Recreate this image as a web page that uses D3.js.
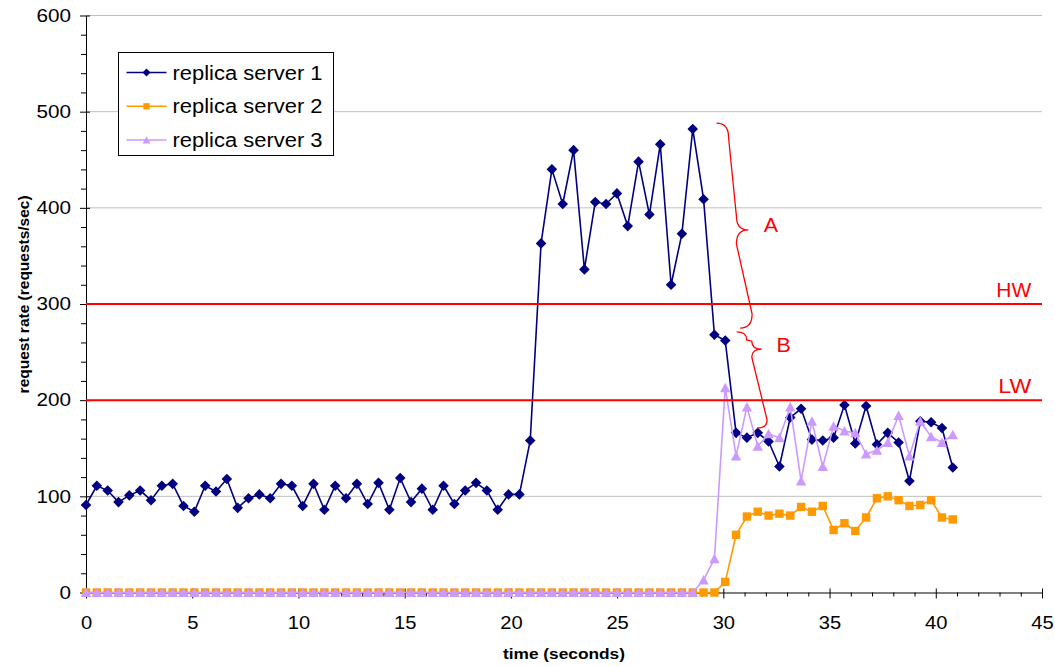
<!DOCTYPE html>
<html>
<head>
<meta charset="utf-8">
<script src="https://cdn.jsdelivr.net/npm/d3@7"></script>
<style>
  body { margin: 0; background: #fff; }
  text { font-family: "Liberation Sans", Arial, sans-serif; }
</style>
</head>
<body>
<div id="canvas"></div>
<script>
// sample times (seconds)
const times = [0, 0.51, 1.02, 1.53, 2.04, 2.55, 3.06, 3.57, 4.08, 4.59, 5.1, 5.61, 6.12, 6.63, 7.14, 7.65,
  8.16, 8.67, 9.18, 9.69, 10.2, 10.71, 11.22, 11.73, 12.24, 12.75, 13.26, 13.77, 14.28, 14.79, 15.3,
  15.81, 16.32, 16.83, 17.34, 17.85, 18.36, 18.87, 19.38, 19.89, 20.4, 20.91, 21.42, 21.93, 22.44,
  22.95, 23.46, 23.97, 24.48, 24.99, 25.5, 26.01, 26.52, 27.03, 27.54, 28.05, 28.56, 29.07, 29.58,
  30.09, 30.6, 31.11, 31.62, 32.13, 32.64, 33.15, 33.66, 34.17, 34.68, 35.19, 35.7, 36.21, 36.72,
  37.23, 37.74, 38.25, 38.76, 39.27, 39.78, 40.29, 40.8];

const server1 = [91, 111, 106, 94, 101, 106, 96, 111, 113, 90, 84, 111, 105, 118, 88, 98, 102, 98,
  113, 111, 90, 113, 86, 111, 98, 113, 92, 114, 86, 119, 94, 108, 86, 111, 92, 106, 114, 106, 86,
  102, 102,
  158, 363, 440, 404, 460, 336, 406, 404, 415, 381, 448, 393, 466, 320, 373, 482, 409, 268, 262,
  166, 161, 166, 157, 131, 182, 191, 159, 158, 161, 195, 155, 194, 154, 166, 156, 116, 178, 177,
  171, 130];

const server2 = [0, 0, 0, 0, 0, 0, 0, 0, 0, 0, 0, 0, 0, 0, 0, 0, 0, 0, 0, 0, 0, 0, 0, 0, 0, 0, 0, 0,
  0, 0, 0, 0, 0, 0, 0, 0, 0, 0, 0, 0, 0, 0, 0, 0, 0, 0, 0, 0, 0, 0, 0, 0, 0, 0, 0, 0, 0, 0, 0,
  11, 60, 79, 84, 80, 82, 80, 89, 84, 90, 65, 72, 64, 78, 98, 100, 96, 90, 91, 96, 78, 76];

const server3 = [0, 0, 0, 0, 0, 0, 0, 0, 0, 0, 0, 0, 0, 0, 0, 0, 0, 0, 0, 0, 0, 0, 0, 0, 0, 0, 0, 0,
  0, 0, 0, 0, 0, 0, 0, 0, 0, 0, 0, 0, 0, 0, 0, 0, 0, 0, 0, 0, 0, 0, 0, 0, 0, 0, 0, 0, 0,
  13, 35, 213, 142, 193, 152, 165, 161, 193, 116, 178, 131, 173, 168, 166, 144, 148, 156, 184, 142,
  178, 162, 156, 164];

const seriesNames = ["replica server 1", "replica server 2", "replica server 3"];
const xTicks = [0, 5, 10, 15, 20, 25, 30, 35, 40, 45];
const yTicks = [0, 100, 200, 300, 400, 500, 600];

// watermark lines and brace notes, in data units
const marks = [{ label: "HW", value: 300 }, { label: "LW", value: 200 }];
const braces = [
  { label: "A", top: [29.68, 488], tip: [31.18, 377], bottom: [30.79, 275], text: [31.9, 375] },
  { label: "B", top: [30.63, 271], tip: [31.81, 253], bottom: [31.59, 171], text: [32.5, 250] },
];

const W = 1055, H = 666;
const margin = { top: 15.5, right: 13, bottom: 73.5, left: 86 };
const width = W - margin.left - margin.right;
const height = H - margin.top - margin.bottom;

const svg = d3.select("#canvas").append("svg")
  .attr("width", W).attr("height", H);
const g = svg.append("g")
  .attr("transform", "translate(" + margin.left + "," + margin.top + ")");

const x = d3.scaleLinear().domain([0, 45]).range([0, width]);
const y = d3.scaleLinear().domain([0, 600]).range([height, 0]);

// gridlines
g.append("g").selectAll("line")
  .data(yTicks.filter(d => d > 0))
  .join("line")
  .attr("x1", 0).attr("x2", width)
  .attr("y1", d => y(d)).attr("y2", d => y(d))
  .attr("stroke", "#c0c0c0").attr("stroke-width", 1);

// x axis: minor then major
g.append("g")
  .attr("transform", "translate(0," + height + ")")
  .call(d3.axisBottom(x).tickValues(d3.range(0, 46, 1).filter(v => v % 5)).tickSize(4).tickFormat(""))
  .call(a => a.select(".domain").remove())
  .selectAll("line").attr("stroke", "#000");

const xAxis = g.append("g")
  .attr("transform", "translate(0," + height + ")")
  .call(d3.axisBottom(x).tickValues(xTicks).tickSize(6).tickSizeOuter(0).tickPadding(18));
xAxis.selectAll(".tick line").attr("y1", -4);
xAxis.selectAll("text")
  .attr("font-size", 18)
  .attr("fill", "#000")
  .attr("textLength", d => String(d).length * 11.2)
  .attr("lengthAdjust", "spacingAndGlyphs");

// y axis
g.append("g")
  .call(d3.axisLeft(y).tickValues(d3.range(0, 601, 20).filter(v => v % 100)).tickSize(5).tickFormat(""))
  .call(a => a.select(".domain").remove())
  .selectAll("line").attr("stroke", "#000");

const yAxis = g.append("g")
  .call(d3.axisLeft(y).tickValues(yTicks).tickSize(6).tickSizeOuter(0).tickPadding(9));
yAxis.selectAll(".tick line").attr("x1", 4);
yAxis.selectAll("text")
  .attr("font-size", 18)
  .attr("fill", "#000")
  .attr("textLength", d => String(d).length * 11.5)
  .attr("lengthAdjust", "spacingAndGlyphs");

// axis titles
g.append("text")
  .attr("x", width / 2).attr("y", height + 66.5)
  .attr("text-anchor", "middle")
  .attr("font-size", 15.5).attr("font-weight", "bold")
  .attr("textLength", 122).attr("lengthAdjust", "spacingAndGlyphs")
  .text("time (seconds)");

g.append("text")
  .attr("transform", "translate(" + (29 - margin.left) + "," + (y(310)) + ") rotate(-90)")
  .attr("text-anchor", "middle")
  .attr("font-size", 15.5).attr("font-weight", "bold")
  .attr("textLength", 198).attr("lengthAdjust", "spacingAndGlyphs")
  .text("request rate (requests/sec)");

// series
const symbols = {
  diamond: "M0,-5.3L5.3,0L0,5.3L-5.3,0Z",
  square: "M-4.2,-4.2h8.4v8.4h-8.4Z",
  triangle: "M0,-5L5.2,4.5L-5.2,4.5Z",
};
const series = [
  { name: seriesNames[0], values: server1, color: "#000080", symbol: symbols.diamond },
  { name: seriesNames[1], values: server2, color: "#FF9900", symbol: symbols.square },
  { name: seriesNames[2], values: server3, color: "#CC99FF", symbol: symbols.triangle },
];

const line = d3.line().x(d => x(d[0])).y(d => y(d[1]));

series.forEach(function (s) {
  const pts = times.map((t, i) => [t, s.values[i]]);
  const sg = g.append("g");
  sg.append("path")
    .datum(pts)
    .attr("d", line)
    .attr("fill", "none")
    .attr("stroke", s.color)
    .attr("stroke-width", 1.6);
  sg.selectAll("path.pt")
    .data(pts)
    .join("path")
    .attr("class", "pt")
    .attr("d", s.symbol)
    .attr("transform", d => "translate(" + x(d[0]) + "," + y(d[1]) + ")")
    .attr("fill", s.color);
});

// HW / LW lines
marks.forEach(function (m) {
  g.append("line")
    .attr("x1", 0).attr("x2", width)
    .attr("y1", y(m.value)).attr("y2", y(m.value))
    .attr("stroke", "#FF0000").attr("stroke-width", 2);
  g.append("text")
    .attr("x", x(44.5)).attr("y", y(m.value) - 7.5)
    .attr("text-anchor", "end")
    .attr("font-size", 20).attr("fill", "#FF0000")
    .attr("textLength", m.label === "HW" ? 35 : 33).attr("lengthAdjust", "spacingAndGlyphs")
    .text(m.label);
});

// curly braces
function bracePath(b, d, r) {
  const T = [x(b.top[0]), y(b.top[1])];
  const C = [x(b.tip[0]), y(b.tip[1])];
  const B = [x(b.bottom[0]), y(b.bottom[1])];
  return "M" + T +
    "Q" + [T[0] + d, T[1]] + " " + [T[0] + d, T[1] + r] +
    "L" + [C[0] - d, C[1] - r] +
    "Q" + [C[0] - d, C[1]] + " " + C +
    "Q" + [C[0] - d, C[1]] + " " + [C[0] - d, C[1] + r] +
    "L" + [B[0] + d, B[1] - r] +
    "Q" + [B[0] + d, B[1]] + " " + B;
}

braces.forEach(function (b, i) {
  g.append("path")
    .attr("d", i === 0 ? bracePath(b, 12, 14) : bracePath(b, 10, 8))
    .attr("fill", "none")
    .attr("stroke", "#FF0000")
    .attr("stroke-width", 1.3);
  g.append("text")
    .attr("x", x(b.text[0])).attr("y", y(b.text[1]))
    .attr("font-size", 20).attr("fill", "#FF0000")
    .attr("textLength", 14.3).attr("lengthAdjust", "spacingAndGlyphs")
    .text(b.label);
});

// legend
const legend = svg.append("g").attr("transform", "translate(118.5,52.5)");
legend.append("rect")
  .attr("width", 215).attr("height", 103)
  .attr("fill", "#fff").attr("stroke", "#000").attr("stroke-width", 1);

const rows = legend.selectAll("g.row")
  .data(series)
  .join("g")
  .attr("class", "row")
  .attr("transform", (d, i) => "translate(0," + (20 + i * 33.8) + ")");
rows.append("line")
  .attr("x1", 8).attr("x2", 48)
  .attr("stroke", d => d.color).attr("stroke-width", 1.5);
rows.append("path")
  .attr("d", d => d.symbol)
  .attr("transform", "translate(28,0) scale(0.75)")
  .attr("fill", d => d.color);
rows.append("text")
  .attr("x", 54).attr("y", 7)
  .attr("font-size", 20).attr("fill", "#000")
  .attr("textLength", 150).attr("lengthAdjust", "spacingAndGlyphs")
  .text(d => d.name);
</script>
</body>
</html>
